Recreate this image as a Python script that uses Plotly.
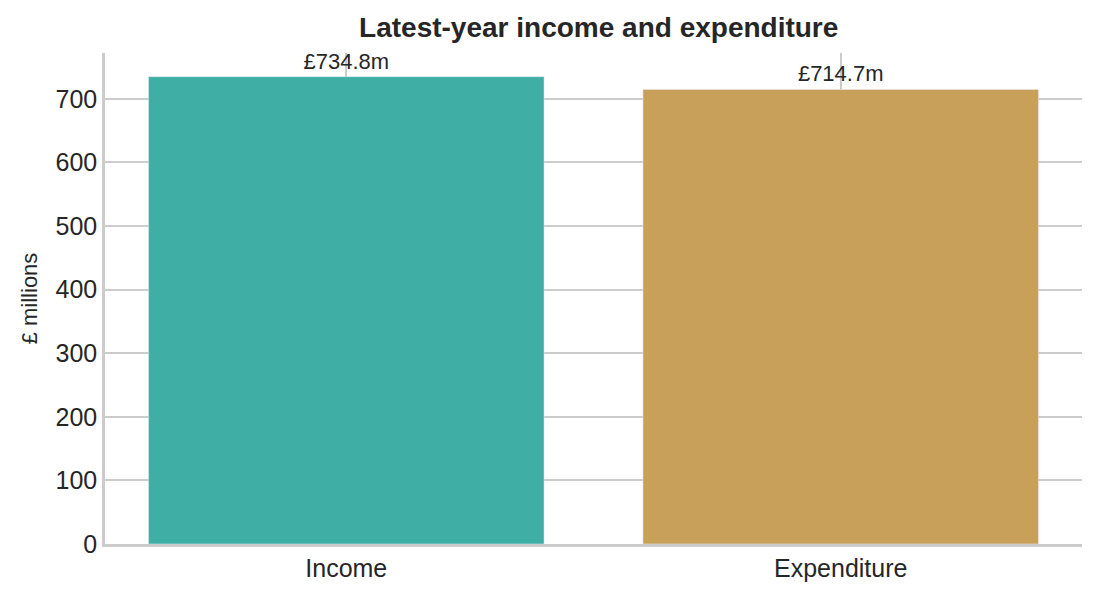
import plotly.graph_objects as go

categories = ["Income", "Expenditure"]
values = [734.8, 714.7]
labels = ["£734.8m", "£714.7m"]
colors = ["#3faea5", "#c8a05a"]

fig = go.Figure(go.Bar(
    x=categories, y=values, marker_color=colors, width=0.8,
    text=labels, textposition="outside", cliponaxis=False,
    textfont=dict(size=22, color="#262626", family="Liberation Sans"),
))
fig.update_layout(
    width=1098, height=594, plot_bgcolor="white", paper_bgcolor="white",
    margin=dict(l=97, r=24, t=45, b=58),
    font=dict(family="Liberation Sans", color="#262626", size=25),
    title=dict(text="<b>Latest-year income and expenditure</b>", x=0.538, xanchor="center",
               y=0.985, yanchor="top", font=dict(size=28)),
    showlegend=False, bargap=0.2,
)
fig.update_xaxes(range=[-0.488, 1.488], showgrid=True, gridcolor="#cccccc", gridwidth=1.5,
                 showline=True, linecolor="#cccccc", linewidth=2.5, ticks="", ticklen=0)
fig.update_yaxes(range=[0, 772], dtick=100, showgrid=True, gridcolor="#cccccc", gridwidth=1.5,
                 showline=True, linecolor="#cccccc", linewidth=2.5, zeroline=False,
                 title=dict(text="£ millions", standoff=12, font=dict(size=22)), ticks="")
fig.write_html("out.html")
